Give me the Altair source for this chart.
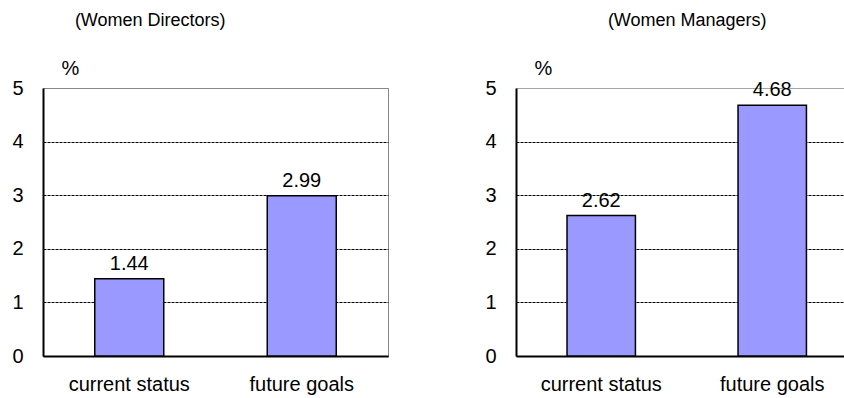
import altair as alt
import pandas as pd

categories = ["current status", "future goals"]
directors = [1.44, 2.99]
managers = [2.62, 4.68]
y_ticks = [0, 1, 2, 3, 4, 5]
panel_titles = ["(Women Directors)", "(Women Managers)"]

FONT = "Liberation Sans"
BAR = "#9999ff"
FS = 20


def panel(values, title, width, xscale, title_dx, view):
    df = pd.DataFrame({"cat": categories, "val": values})
    x = alt.X(
        "cat:N", sort=categories, scale=xscale,
        axis=alt.Axis(title=None, labelAngle=0, ticks=False, domainColor="black",
                      domainWidth=2, labelFontSize=FS, labelFont=FONT,
                      labelColor="black", labelPadding=18),
    )
    y = alt.Y(
        "val:Q", scale=alt.Scale(domain=[0, 5], nice=False, zero=True),
        axis=alt.Axis(
            values=y_ticks, title="%", titleAngle=0, titleX=27, titleY=-20,
            titleAlign="center", titleBaseline="middle", titleFontSize=FS,
            titleFont=FONT, titleFontWeight="normal", titleColor="black",
            labelFontSize=FS, labelFont=FONT, labelColor="black", labelPadding=20,
            ticks=False, domainColor="black", domainWidth=2,
            grid=True,
            gridColor=alt.condition("datum.value == 5", alt.value("#888888"), alt.value("black")),
            gridDash=alt.condition("datum.value == 5", alt.value([1, 0]), alt.value([3, 1])),
            gridWidth=1,
        ),
    )
    base = alt.Chart(df)
    bars = base.mark_bar(color=BAR, stroke="black", strokeWidth=1.5).encode(x=x, y=y)
    text = base.mark_text(dy=-9, baseline="alphabetic", fontSize=FS, font=FONT,
                          color="black").encode(
        x=x, y=y, text=alt.Text("val:Q", format=".2f"))
    return alt.layer(bars, text).properties(
        width=width, height=268,
        title=alt.TitleParams(title, anchor="start", dx=title_dx, fontSize=18,
                              font=FONT, fontWeight="normal", color="black", offset=28),
        view=view,
    )


left = panel(directors, panel_titles[0], 345,
             alt.Scale(paddingInner=0.6, paddingOuter=0.3), 63,
             alt.ViewBackground(stroke="#888888", strokeWidth=1))
right = panel(managers, panel_titles[1], 328,
              alt.Scale(paddingInner=0.6, paddingOuter=0.259, align=0.576), 123,
              alt.ViewBackground(stroke=None))

chart = alt.hconcat(left, right, spacing=95).properties(
    padding={"left": 11, "top": 11, "right": 0, "bottom": 0},
    background="white",
)

chart.save("out.html", embed_options={"renderer": "svg", "actions": False})
